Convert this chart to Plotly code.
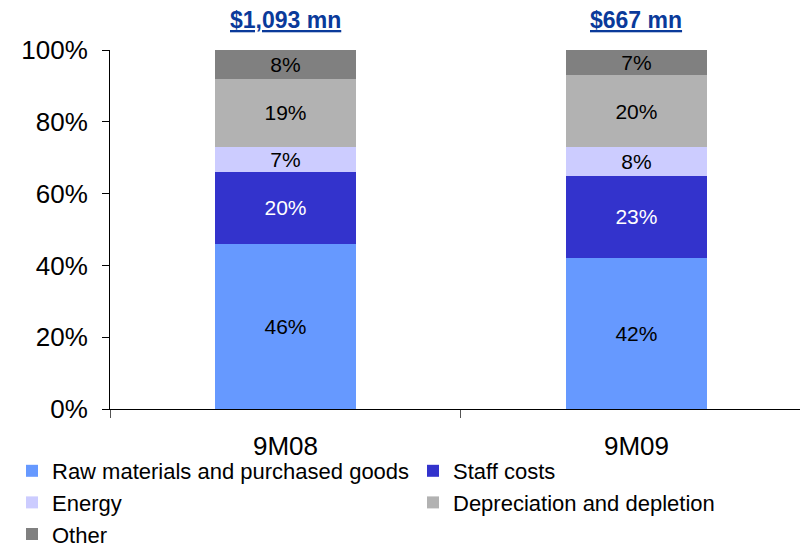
import plotly.graph_objects as go

categories = ["9M08", "9M09"]
totals = ["$1,093 mn", "$667 mn"]
series_names = ["Raw materials and purchased goods", "Staff costs", "Energy",
                "Depreciation and depletion", "Other"]
raw_materials = [46, 42]
staff_costs = [20, 23]
energy = [7, 8]
depreciation = [19, 20]
other = [8, 7]
y_ticks = [0, 20, 40, 60, 80, 100]
y_tick_labels = ["0%", "20%", "40%", "60%", "80%", "100%"]

series_values = [raw_materials, staff_costs, energy, depreciation, other]
colors = ["#6699FF", "#3333CC", "#CCCCFF", "#B2B2B2", "#808080"]
text_colors = ["black", "white", "black", "black", "black"]
legend_ids = ["legend", "legend2", "legend", "legend2", "legend"]

FONT = "Arial, Liberation Sans, sans-serif"

fig = go.Figure()
for name, vals, col, tcol, lg in zip(series_names, series_values, colors, text_colors, legend_ids):
    fig.add_trace(go.Bar(
        x=categories, y=vals, name=name, width=0.4,
        marker=dict(color=col, line=dict(width=0)),
        text=[f"{v}%" for v in vals], texttemplate="%{text}",
        textposition="inside", insidetextanchor="middle",
        constraintext="none",
        textfont=dict(color=tcol, size=21, family=FONT),
        legend=lg, hoverinfo="skip",
    ))

for cat, tot in zip(categories, totals):
    fig.add_annotation(
        x=cat, y=1, xref="x", yref="paper", yanchor="middle", yshift=30,
        text="<b><u>" + tot + "</u></b>", showarrow=False,
        font=dict(size=23, color="#0A3A9A", family=FONT),
    )

legend_common = dict(yref="container", xref="container", yanchor="top", xanchor="left",
                     orientation="v", traceorder="normal",
                     font=dict(size=22, family=FONT, color="black"),
                     bgcolor="rgba(0,0,0,0)", borderwidth=0)

fig.update_layout(
    width=800, height=547,
    margin=dict(l=110, r=0, t=50, b=138, pad=0, autoexpand=False),
    barmode="stack",
    plot_bgcolor="white", paper_bgcolor="white",
    font=dict(family=FONT, color="black"),
    showlegend=True,
    legend=dict(x=12 / 800, y=1 - 450 / 547, **legend_common),
    legend2=dict(x=413 / 800, y=1 - 450 / 547, **legend_common),
    xaxis=dict(type="category", range=[-0.5, 1.466], tickson="boundaries",
               ticks="outside", ticklen=8, tickcolor="#555555", tickwidth=1,
               showline=True, linecolor="black", linewidth=1,
               showgrid=False, zeroline=False,
               tickfont=dict(size=26, family=FONT, color="black"),
               ticklabelstandoff=14),
    yaxis=dict(range=[0, 100], tickmode="array", tickvals=y_ticks, ticktext=y_tick_labels,
               ticks="outside", ticklen=7, tickcolor="black", tickwidth=1,
               showline=True, linecolor="black", linewidth=1,
               showgrid=False, zeroline=False,
               tickfont=dict(size=26, family=FONT, color="black"),
               ticklabelstandoff=9),
)

fig.write_html("out.html", config={"displayModeBar": False},
               post_script="document.body.style.margin='0';")
